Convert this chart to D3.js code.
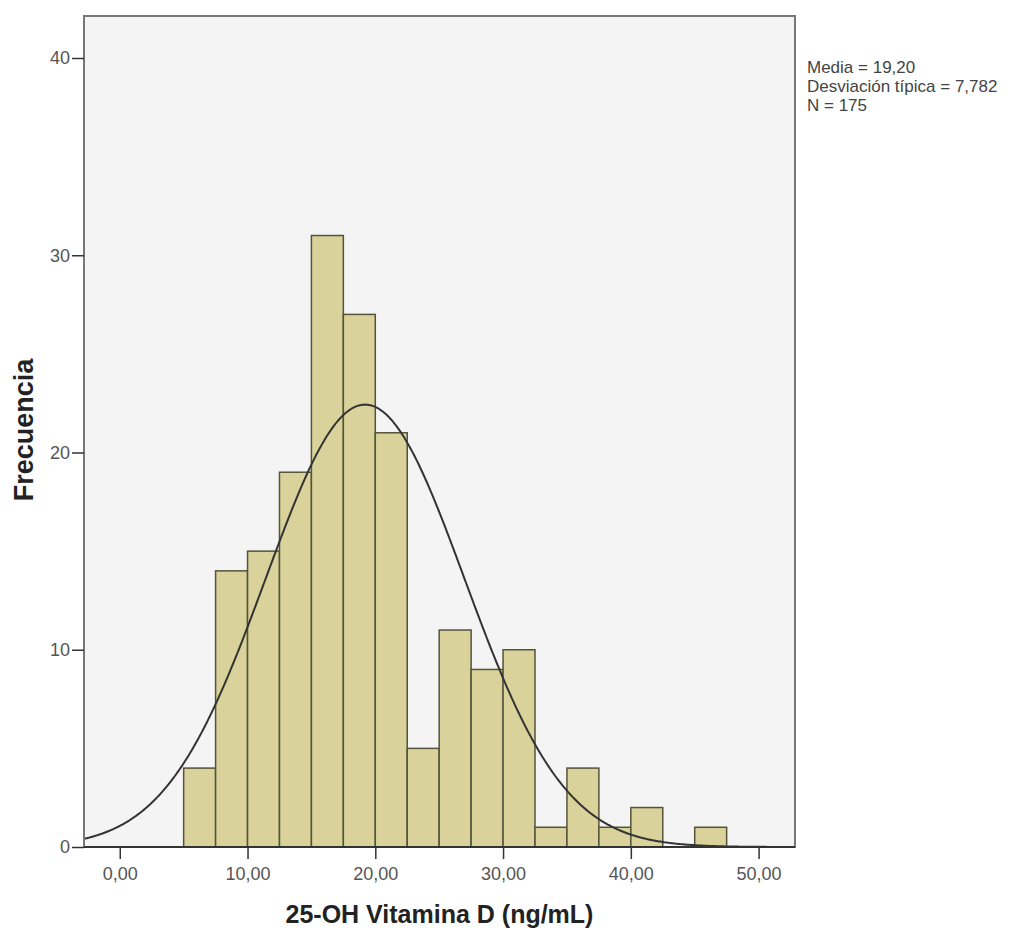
<!DOCTYPE html>
<meta charset="utf-8">
<style>
body { margin: 0; background: #fff; }
.axis .domain { display: none; }
.axis text { font-family: "Liberation Sans", Arial, sans-serif; font-size: 18px; fill: #555; }
.axis line { stroke: #333; stroke-width: 1.5; }
</style>
<svg width="1019" height="933"></svg>
<script src="https://cdn.jsdelivr.net/npm/d3@7"></script>
<script>

// histogram bins (lower edge, width 2.5) and counts
var binStarts = [5, 7.5, 10, 12.5, 15, 17.5, 20, 22.5, 25, 27.5, 30, 32.5, 35, 37.5, 40, 42.5, 45];
var counts    = [4, 14, 15, 19, 31, 27, 21, 5, 11, 9, 10, 1, 4, 1, 2, 0, 1];
var binWidth = 2.5;

var xTicks = [0, 10, 20, 30, 40, 50];
var yTicks = [0, 10, 20, 30, 40];

var media = 19.20, sd = 7.782, n = 175;
var statLines = ["Media = 19,20", "Desviación típica = 7,782", "N = 175"];

var svg = d3.select("svg"),
    margin = {top: 16, left: 84, right: 224, bottom: 86},
    width = 1019 - margin.left - margin.right,
    height = 933 - margin.top - margin.bottom,
    g = svg.append("g").attr("transform", "translate(" + margin.left + "," + margin.top + ")");

var x = d3.scaleLinear().domain([-2.8, 52.85]).range([0, width]);
var y = d3.scaleLinear().domain([0, 40]).range([height, height - 789]);

var fmt = function(d) { return d3.format(".2f")(d).replace(".", ","); };

// background
g.append("rect")
    .attr("width", width)
    .attr("height", height)
    .attr("fill", "#f4f4f4");

// bars
g.selectAll(".bar")
  .data(binStarts.map(function(b, i) { return {x0: b, c: counts[i]}; }).filter(function(d) { return d.c > 0; }))
  .enter().append("rect")
    .attr("class", "bar")
    .attr("x", function(d) { return x(d.x0); })
    .attr("y", function(d) { return y(d.c); })
    .attr("width", function(d) { return x(d.x0 + binWidth) - x(d.x0); })
    .attr("height", function(d) { return y(0) - y(d.c); })
    .attr("fill", "#d9d39b")
    .attr("stroke", "#55533a")
    .attr("stroke-width", 1.5);

// normal curve from the stats
var pts = d3.range(-2.8, 52.86, 0.1).map(function(v) {
  var z = (v - media) / sd;
  return [v, n * binWidth * Math.exp(-0.5 * z * z) / (sd * Math.sqrt(2 * Math.PI))];
});
g.append("path")
    .datum(pts)
    .attr("fill", "none")
    .attr("stroke", "#333")
    .attr("stroke-width", 2)
    .attr("d", d3.line().x(function(d) { return x(d[0]); }).y(function(d) { return y(d[1]); }));

// frame
g.append("rect")
    .attr("width", width)
    .attr("height", height)
    .attr("fill", "none")
    .attr("stroke", "#777")
    .attr("stroke-width", 2);
g.append("line")
    .attr("x1", 0).attr("x2", width)
    .attr("y1", height).attr("y2", height)
    .attr("stroke", "#333").attr("stroke-width", 2);

// axes
g.append("g")
    .attr("class", "axis")
    .attr("transform", "translate(0," + height + ")")
    .call(d3.axisBottom(x).tickValues(xTicks).tickFormat(fmt).tickSize(12).tickPadding(8));

g.append("g")
    .attr("class", "axis")
    .call(d3.axisLeft(y).tickValues(yTicks).tickSize(12).tickPadding(2));

// axis titles
svg.append("text")
    .attr("x", margin.left + width / 2)
    .attr("y", 923)
    .attr("text-anchor", "middle")
    .attr("font-family", "\"Liberation Sans\", Arial, sans-serif")
    .attr("font-weight", "bold")
    .attr("font-size", 25)
    .attr("fill", "#222")
    .text("25-OH Vitamina D (ng/mL)");

svg.append("text")
    .attr("transform", "translate(33,430) rotate(-90)")
    .attr("text-anchor", "middle")
    .attr("font-family", "\"Liberation Sans\", Arial, sans-serif")
    .attr("font-weight", "bold")
    .attr("font-size", 27)
    .attr("fill", "#222")
    .text("Frecuencia");

// stats box text
svg.append("g")
    .selectAll("text")
    .data(statLines)
    .enter().append("text")
    .attr("x", 807)
    .attr("y", function(d, i) { return 73 + i * 19; })
    .attr("font-family", "\"Liberation Sans\", Arial, sans-serif")
    .attr("font-size", 17)
    .attr("fill", "#444")
    .text(function(d) { return d; });

</script>
